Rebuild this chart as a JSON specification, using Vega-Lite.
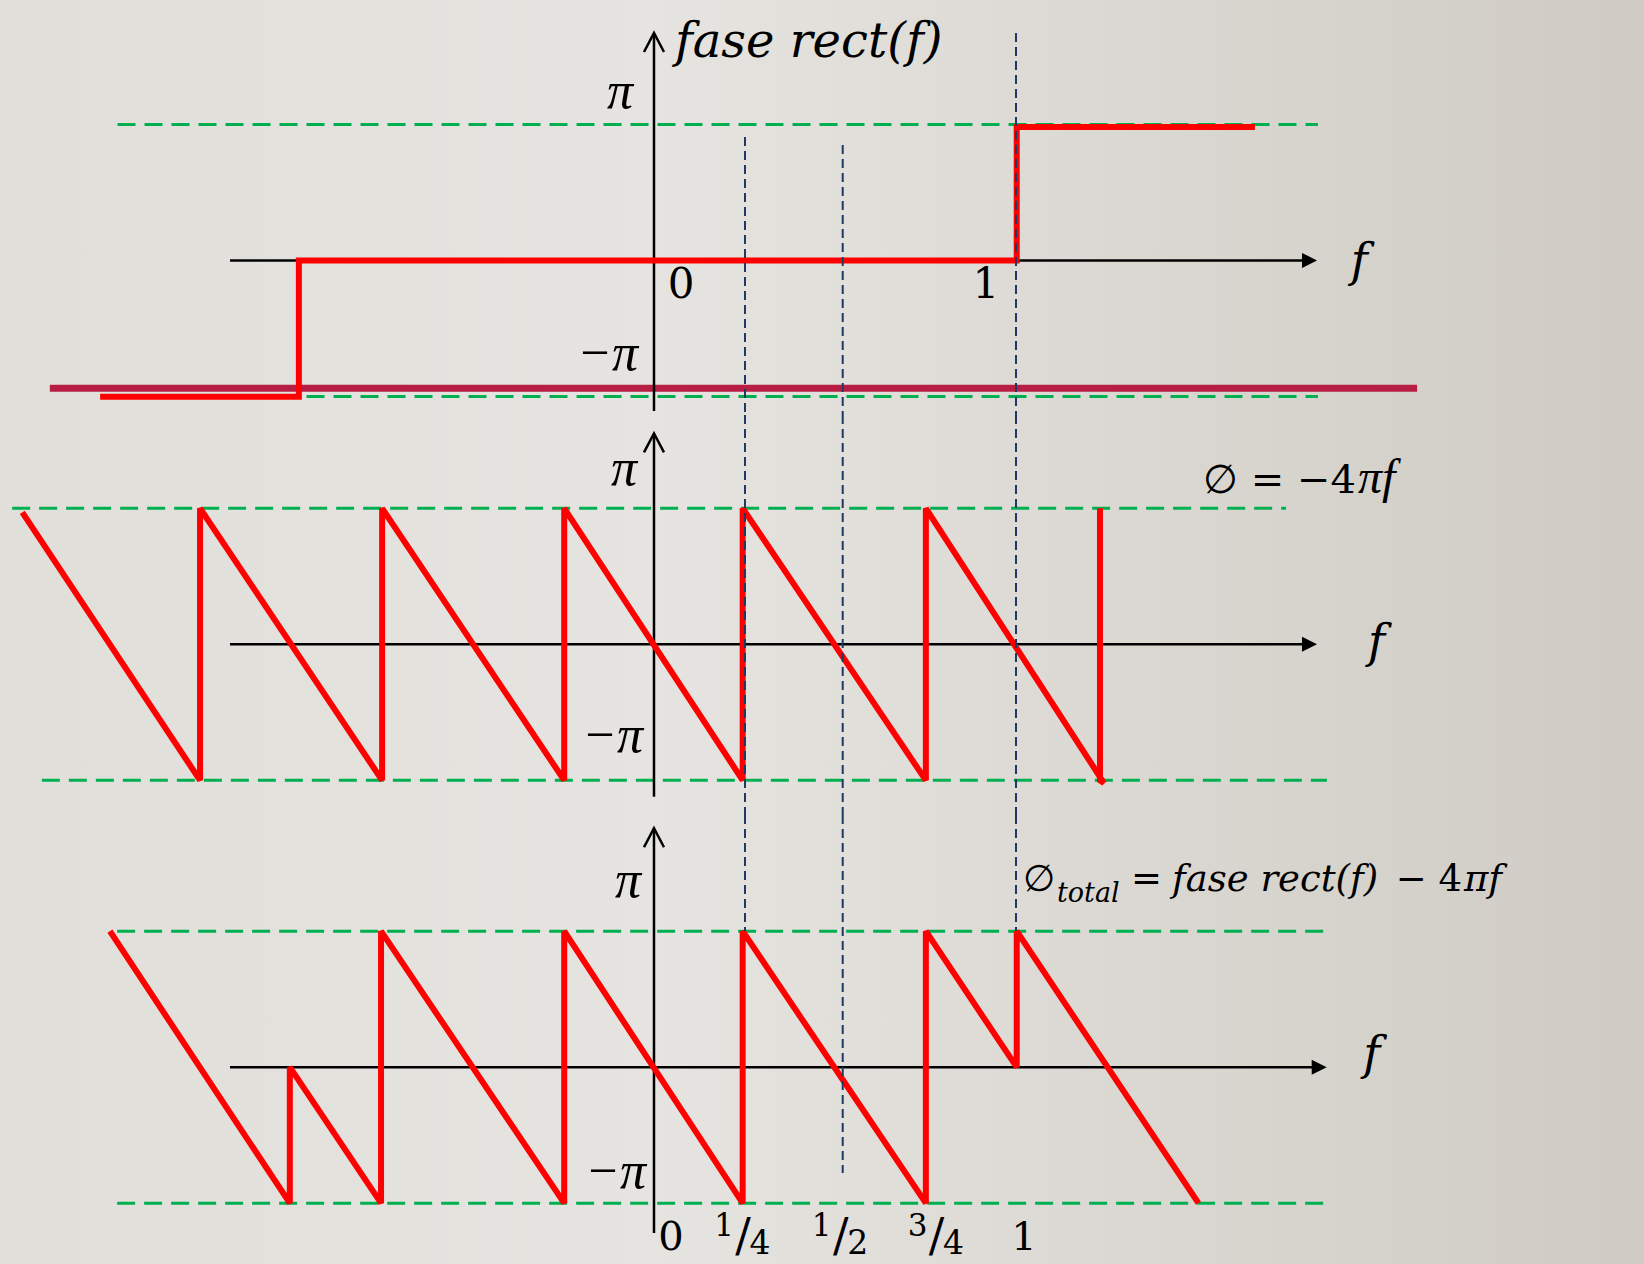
{
  "$schema": "https://vega.github.io/schema/vega-lite/v6.json",
  "padding": 0,
  "spacing": 0,
  "bounds": "flush",
  "background": "#dfdcd7",
  "config": {
    "view": {
      "stroke": null,
      "fill": {"gradient": "linear", "x1": 0, "y1": 0, "x2": 1, "y2": 0,
        "stops": [{"offset": 0, "color": "#e1dfda"}, {"offset": 0.4, "color": "#e6e4e0"}, {"offset": 1, "color": "#cfcbc4"}]}
    },
    "text": {"font": "DejaVu Serif", "color": "#000000", "baseline": "alphabetic"}
  },
  "datasets": {
    "red": [
      {"p": 1, "i": 1, "f": -1.530, "y": -1.002},
      {"p": 1, "i": 2, "f": -0.981, "y": -1.002},
      {"p": 1, "i": 3, "f": -0.981, "y": 0},
      {"p": 1, "i": 4, "f": 1.002, "y": 0},
      {"p": 1, "i": 5, "f": 1.002, "y": 0.981},
      {"p": 1, "i": 6, "f": 1.660, "y": 0.981},
      {"p": 2, "i": 1, "f": -1.745, "y": 0.97},
      {"p": 2, "i": 2, "f": -1.254, "y": -1},
      {"p": 2, "i": 3, "f": -1.254, "y": 1},
      {"p": 2, "i": 4, "f": -0.751, "y": -1},
      {"p": 2, "i": 5, "f": -0.751, "y": 1},
      {"p": 2, "i": 6, "f": -0.248, "y": -1},
      {"p": 2, "i": 7, "f": -0.248, "y": 1},
      {"p": 2, "i": 8, "f": 0.245, "y": -1},
      {"p": 2, "i": 9, "f": 0.245, "y": 1},
      {"p": 2, "i": 10, "f": 0.751, "y": -1},
      {"p": 2, "i": 11, "f": 0.751, "y": 1},
      {"p": 2, "i": 12, "f": 1.243, "y": -1.02},
      {"p": 2, "i": 13, "f": 1.232, "y": -1},
      {"p": 2, "i": 14, "f": 1.232, "y": 1},
      {"p": 3, "i": 1, "f": -1.503, "y": 1},
      {"p": 3, "i": 2, "f": -1.006, "y": -1},
      {"p": 3, "i": 3, "f": -1.006, "y": 0},
      {"p": 3, "i": 4, "f": -0.754, "y": -1},
      {"p": 3, "i": 5, "f": -0.754, "y": 1},
      {"p": 3, "i": 6, "f": -0.248, "y": -1},
      {"p": 3, "i": 7, "f": -0.248, "y": 1},
      {"p": 3, "i": 8, "f": 0.245, "y": -1},
      {"p": 3, "i": 9, "f": 0.245, "y": 1},
      {"p": 3, "i": 10, "f": 0.751, "y": -1},
      {"p": 3, "i": 11, "f": 0.751, "y": 1},
      {"p": 3, "i": 12, "f": 1.002, "y": 0},
      {"p": 3, "i": 13, "f": 1.002, "y": 1},
      {"p": 3, "i": 14, "f": 1.504, "y": -1}
    ],
    "guides": [
      {"p": 1, "f": -1.482, "f2": 1.834, "y": 1.0, "y2": 1.0},
      {"p": 1, "f": -1.482, "f2": 1.834, "y": -1.0, "y2": -1.0},
      {"p": 2, "f": -1.773, "f2": 1.746, "y": 1.0, "y2": 1.0},
      {"p": 2, "f": -1.691, "f2": 1.859, "y": -1.0, "y2": -1.0},
      {"p": 3, "f": -1.483, "f2": 1.859, "y": 1.0, "y2": 1.0},
      {"p": 3, "f": -1.483, "f2": 1.859, "y": -1.0, "y2": -1.0}
    ],
    "axes": [
      {"p": 1, "f": -1.1713, "f2": 1.8039, "y": 0, "y2": 0},
      {"p": 1, "f": 0, "f2": 0, "y": -1.107, "y2": 1.66},
      {"p": 2, "f": -1.1713, "f2": 1.8039, "y": 0, "y2": 0},
      {"p": 2, "f": 0, "f2": 0, "y": -1.121, "y2": 1.54},
      {"p": 3, "f": -1.1713, "f2": 1.8315, "y": 0, "y2": 0},
      {"p": 3, "f": 0, "f2": 0, "y": -1.219, "y2": 1.745}
    ],
    "arrows": [
      {"p": 1, "dir": "x", "f": 1.8315, "y": 0},
      {"p": 1, "dir": "y", "f": 0, "y": 1.672},
      {"p": 2, "dir": "x", "f": 1.8315, "y": 0},
      {"p": 2, "dir": "y", "f": 0, "y": 1.551},
      {"p": 3, "dir": "x", "f": 1.8583, "y": 0},
      {"p": 3, "dir": "y", "f": 0, "y": 1.757}
    ],
    "blue": [
      {"p": 1, "f": 1.0, "y": 1.672, "y2": -1.1368},
      {"p": 1, "f": 0.2514, "y": 0.907, "y2": -1.1368},
      {"p": 1, "f": 0.5213, "y": 0.8485, "y2": -1.1368},
      {"p": 2, "f": 1.0, "y": 1.686, "y2": -1.2551},
      {"p": 2, "f": 0.2514, "y": 1.686, "y2": -1.2551},
      {"p": 2, "f": 0.5213, "y": 1.686, "y2": -1.2551},
      {"p": 3, "f": 1.0, "y": 1.8544, "y2": 1.0015},
      {"p": 3, "f": 0.2514, "y": 1.8544, "y2": 1.0015},
      {"p": 3, "f": 0.5213, "y": 1.8544, "y2": -0.778}
    ],
    "crimson": [
      {"p": 1, "f": -1.669, "f2": 2.108, "y": -0.94}
    ],
    "fracs": [
      {"p": 3, "num": "1", "den": "4", "f": 0.2514, "y": -1.344},
      {"p": 3, "num": "1", "den": "2", "f": 0.5213, "y": -1.344},
      {"p": 3, "num": "3", "den": "4", "f": 0.7859, "y": -1.344}
    ],
    "labels": [
      {"p": 1, "role": "title", "text": "fase rect(f)", "f": 0.058, "y": 1.4978},
      {"p": 1, "role": "ylab", "text": "π", "f": -0.058, "y": 1.1206},
      {"p": 1, "role": "ylab", "text": "−π", "f": -0.044, "y": -0.806},
      {"p": 1, "role": "tick", "text": "0", "f": 0.0746, "y": -0.2765},
      {"p": 1, "role": "tick", "text": "1", "f": 0.917, "y": -0.2765},
      {"p": 1, "role": "xlab", "text": "f", "f": 1.948, "y": -0.115},
      {"p": 2, "role": "ylab", "text": "π", "f": -0.047, "y": 1.171},
      {"p": 2, "role": "ylab", "text": "−π", "f": -0.030, "y": -0.792},
      {"p": 2, "role": "xlab", "text": "f", "f": 1.996, "y": -0.093},
      {"p": 2, "role": "eqr", "text": "∅ = −4", "f": 1.9392, "y": 1.1125},
      {"p": 2, "role": "eqi", "text": "πf", "f": 1.9448, "y": 1.1125},
      {"p": 3, "role": "ylab", "text": "π", "f": -0.036, "y": 1.2515},
      {"p": 3, "role": "ylab", "text": "−π", "f": -0.022, "y": -0.888},
      {"p": 3, "role": "xlab", "text": "f", "f": 1.983, "y": -0.01},
      {"p": 3, "role": "tick", "text": "0", "f": 0.047, "y": -1.344},
      {"p": 3, "role": "tick", "text": "1", "f": 1.022, "y": -1.344},
      {"p": 3, "role": "eqr", "text": "∅", "f": 1.1077, "y": 1.2956},
      {"p": 3, "role": "sub", "text": "total", "f": 1.1133, "y": 1.2147},
      {"p": 3, "role": "eq", "text": "=", "f": 1.3177, "y": 1.2956},
      {"p": 3, "role": "eqi", "text": "fase rect(f)", "f": 1.4309, "y": 1.2956},
      {"p": 3, "role": "eqr", "text": "− 4", "f": 2.232, "y": 1.2956},
      {"p": 3, "role": "eqi", "text": "πf", "f": 2.2376, "y": 1.2956}
    ]
  },
  "vconcat": [
    {
      "width": 1644,
      "height": 415,
      "encoding": {
        "x": {"field": "f", "type": "quantitative", "axis": null, "scale": {"domain": [-1.8066, 2.7348], "nice": false, "zero": false}},
        "y": {"field": "y", "type": "quantitative", "axis": null, "scale": {"domain": [-1.1368, 1.9147], "nice": false, "zero": false}}
      },
      "layer": [
        {"data": {"name": "guides"}, "transform": [{"filter": "datum.p == 1"}],
         "mark": {"type": "rule", "color": "#00b050", "strokeWidth": 3, "strokeDash": [18, 9]},
         "encoding": {"x2": {"field": "f2"}, "y2": {"field": "y2"}}},
        {"data": {"name": "crimson"}, "transform": [{"filter": "datum.p == 1"}],
         "mark": {"type": "rule", "color": "#b81e44", "strokeWidth": 7},
         "encoding": {"x2": {"field": "f2"}}},
        {"data": {"name": "axes"}, "transform": [{"filter": "datum.p == 1"}],
         "mark": {"type": "rule", "color": "#000000", "strokeWidth": 2.5},
         "encoding": {"x2": {"field": "f2"}, "y2": {"field": "y2"}}},
        {"data": {"name": "red"}, "transform": [{"filter": "datum.p == 1"}],
         "mark": {"type": "line", "color": "#ff0000", "strokeWidth": 6, "strokeJoin": "miter", "strokeMiterLimit": 2},
         "encoding": {"order": {"field": "i", "type": "quantitative"}}},
        {"data": {"name": "blue"}, "transform": [{"filter": "datum.p == 1"}],
         "mark": {"type": "rule", "color": "#1f3864", "strokeWidth": 2, "strokeDash": [9, 5]},
         "encoding": {"y2": {"field": "y2"}}},
        {"data": {"name": "arrows"}, "transform": [{"filter": "datum.p == 1 && datum.dir == 'x'"}],
         "mark": {"type": "point", "shape": "M0,0L-2,-1L-2,1Z", "size": 225, "filled": true, "color": "#000000", "opacity": 1}},
        {"data": {"name": "arrows"}, "transform": [{"filter": "datum.p == 1 && datum.dir == 'y'"}],
         "mark": {"type": "point", "shape": "M-1,1.9L0,0L1,1.9", "size": 400, "filled": false, "color": "#000000", "strokeWidth": 2.5, "opacity": 1}},
        {"data": {"name": "labels"}, "transform": [{"filter": "datum.p == 1 && datum.role == 'title'"}],
         "mark": {"type": "text", "fontSize": 48, "fontStyle": "italic", "align": "left"},
         "encoding": {"text": {"field": "text"}}},
        {"data": {"name": "labels"}, "transform": [{"filter": "datum.p == 1 && datum.role == 'ylab'"}],
         "mark": {"type": "text", "font": "Liberation Serif", "fontSize": 52, "fontStyle": "italic", "align": "right"},
         "encoding": {"text": {"field": "text"}}},
        {"data": {"name": "labels"}, "transform": [{"filter": "datum.p == 1 && datum.role == 'tick'"}],
         "mark": {"type": "text", "fontSize": 42, "align": "center"},
         "encoding": {"text": {"field": "text"}}},
        {"data": {"name": "labels"}, "transform": [{"filter": "datum.p == 1 && datum.role == 'xlab'"}],
         "mark": {"type": "text", "fontSize": 46, "fontStyle": "italic", "align": "center"},
         "encoding": {"text": {"field": "text"}}}
      ]
    },
    {
      "width": 1644,
      "height": 400,
      "encoding": {
        "x": {"field": "f", "type": "quantitative", "axis": null, "scale": {"domain": [-1.8066, 2.7348], "nice": false, "zero": false}},
        "y": {"field": "y", "type": "quantitative", "axis": null, "scale": {"domain": [-1.2551, 1.686], "nice": false, "zero": false}}
      },
      "layer": [
        {"data": {"name": "guides"}, "transform": [{"filter": "datum.p == 2"}],
         "mark": {"type": "rule", "color": "#00b050", "strokeWidth": 3, "strokeDash": [18, 9]},
         "encoding": {"x2": {"field": "f2"}, "y2": {"field": "y2"}}},
        {"data": {"name": "axes"}, "transform": [{"filter": "datum.p == 2"}],
         "mark": {"type": "rule", "color": "#000000", "strokeWidth": 2.5},
         "encoding": {"x2": {"field": "f2"}, "y2": {"field": "y2"}}},
        {"data": {"name": "red"}, "transform": [{"filter": "datum.p == 2"}],
         "mark": {"type": "line", "color": "#ff0000", "strokeWidth": 6, "strokeJoin": "miter", "strokeMiterLimit": 2},
         "encoding": {"order": {"field": "i", "type": "quantitative"}}},
        {"data": {"name": "blue"}, "transform": [{"filter": "datum.p == 2"}],
         "mark": {"type": "rule", "color": "#1f3864", "strokeWidth": 2, "strokeDash": [9, 5]},
         "encoding": {"y2": {"field": "y2"}}},
        {"data": {"name": "arrows"}, "transform": [{"filter": "datum.p == 2 && datum.dir == 'x'"}],
         "mark": {"type": "point", "shape": "M0,0L-2,-1L-2,1Z", "size": 225, "filled": true, "color": "#000000", "opacity": 1}},
        {"data": {"name": "arrows"}, "transform": [{"filter": "datum.p == 2 && datum.dir == 'y'"}],
         "mark": {"type": "point", "shape": "M-1,1.9L0,0L1,1.9", "size": 400, "filled": false, "color": "#000000", "strokeWidth": 2.5, "opacity": 1}},
        {"data": {"name": "labels"}, "transform": [{"filter": "datum.p == 2 && datum.role == 'ylab'"}],
         "mark": {"type": "text", "font": "Liberation Serif", "fontSize": 52, "fontStyle": "italic", "align": "right"},
         "encoding": {"text": {"field": "text"}}},
        {"data": {"name": "labels"}, "transform": [{"filter": "datum.p == 2 && datum.role == 'xlab'"}],
         "mark": {"type": "text", "fontSize": 46, "fontStyle": "italic", "align": "center"},
         "encoding": {"text": {"field": "text"}}},
        {"data": {"name": "labels"}, "transform": [{"filter": "datum.p == 2 && datum.role == 'eqr'"}],
         "mark": {"type": "text", "fontSize": 40, "align": "right"},
         "encoding": {"text": {"field": "text"}}},
        {"data": {"name": "labels"}, "transform": [{"filter": "datum.p == 2 && datum.role == 'eqi'"}],
         "mark": {"type": "text", "font": "Liberation Serif", "fontSize": 48, "fontStyle": "italic", "align": "left"},
         "encoding": {"text": {"field": "text"}}}
      ]
    },
    {
      "width": 1644,
      "height": 449,
      "encoding": {
        "x": {"field": "f", "type": "quantitative", "axis": null, "scale": {"domain": [-1.8066, 2.7348], "nice": false, "zero": false}},
        "y": {"field": "y", "type": "quantitative", "axis": null, "scale": {"domain": [-1.4471, 1.8544], "nice": false, "zero": false}}
      },
      "layer": [
        {"data": {"name": "guides"}, "transform": [{"filter": "datum.p == 3"}],
         "mark": {"type": "rule", "color": "#00b050", "strokeWidth": 3, "strokeDash": [18, 9]},
         "encoding": {"x2": {"field": "f2"}, "y2": {"field": "y2"}}},
        {"data": {"name": "axes"}, "transform": [{"filter": "datum.p == 3"}],
         "mark": {"type": "rule", "color": "#000000", "strokeWidth": 2.5},
         "encoding": {"x2": {"field": "f2"}, "y2": {"field": "y2"}}},
        {"data": {"name": "red"}, "transform": [{"filter": "datum.p == 3"}],
         "mark": {"type": "line", "color": "#ff0000", "strokeWidth": 6, "strokeJoin": "miter", "strokeMiterLimit": 2},
         "encoding": {"order": {"field": "i", "type": "quantitative"}}},
        {"data": {"name": "blue"}, "transform": [{"filter": "datum.p == 3"}],
         "mark": {"type": "rule", "color": "#1f3864", "strokeWidth": 2, "strokeDash": [9, 5]},
         "encoding": {"y2": {"field": "y2"}}},
        {"data": {"name": "arrows"}, "transform": [{"filter": "datum.p == 3 && datum.dir == 'x'"}],
         "mark": {"type": "point", "shape": "M0,0L-2,-1L-2,1Z", "size": 225, "filled": true, "color": "#000000", "opacity": 1}},
        {"data": {"name": "arrows"}, "transform": [{"filter": "datum.p == 3 && datum.dir == 'y'"}],
         "mark": {"type": "point", "shape": "M-1,1.9L0,0L1,1.9", "size": 400, "filled": false, "color": "#000000", "strokeWidth": 2.5, "opacity": 1}},
        {"data": {"name": "labels"}, "transform": [{"filter": "datum.p == 3 && datum.role == 'ylab'"}],
         "mark": {"type": "text", "font": "Liberation Serif", "fontSize": 52, "fontStyle": "italic", "align": "right"},
         "encoding": {"text": {"field": "text"}}},
        {"data": {"name": "labels"}, "transform": [{"filter": "datum.p == 3 && datum.role == 'xlab'"}],
         "mark": {"type": "text", "fontSize": 46, "fontStyle": "italic", "align": "center"},
         "encoding": {"text": {"field": "text"}}},
        {"data": {"name": "labels"}, "transform": [{"filter": "datum.p == 3 && datum.role == 'tick'"}],
         "mark": {"type": "text", "fontSize": 40, "align": "center"},
         "encoding": {"text": {"field": "text"}}},
        {"data": {"name": "fracs"}, "transform": [{"filter": "datum.p == 3"}],
         "mark": {"type": "text", "fontSize": 31, "align": "center", "dx": -21, "dy": -14},
         "encoding": {"text": {"field": "num"}}},
        {"data": {"name": "fracs"}, "transform": [{"filter": "datum.p == 3"}],
         "mark": {"type": "text", "fontSize": 46, "align": "center", "dx": -2, "dy": 1, "text": "/"}},
        {"data": {"name": "fracs"}, "transform": [{"filter": "datum.p == 3"}],
         "mark": {"type": "text", "fontSize": 33, "align": "center", "dx": 15, "dy": 4},
         "encoding": {"text": {"field": "den"}}},
        {"data": {"name": "labels"}, "transform": [{"filter": "datum.p == 3 && datum.role == 'eqr'"}],
         "mark": {"type": "text", "fontSize": 37, "align": "right"},
         "encoding": {"text": {"field": "text"}}},
        {"data": {"name": "labels"}, "transform": [{"filter": "datum.p == 3 && datum.role == 'eq'"}],
         "mark": {"type": "text", "fontSize": 37, "align": "left"},
         "encoding": {"text": {"field": "text"}}},
        {"data": {"name": "labels"}, "transform": [{"filter": "datum.p == 3 && datum.role == 'eqi'"}],
         "mark": {"type": "text", "fontSize": 37, "fontStyle": "italic", "align": "left"},
         "encoding": {"text": {"field": "text"}}},
        {"data": {"name": "labels"}, "transform": [{"filter": "datum.p == 3 && datum.role == 'sub'"}],
         "mark": {"type": "text", "fontSize": 27, "fontStyle": "italic", "align": "left"},
         "encoding": {"text": {"field": "text"}}}
      ]
    }
  ]
}
